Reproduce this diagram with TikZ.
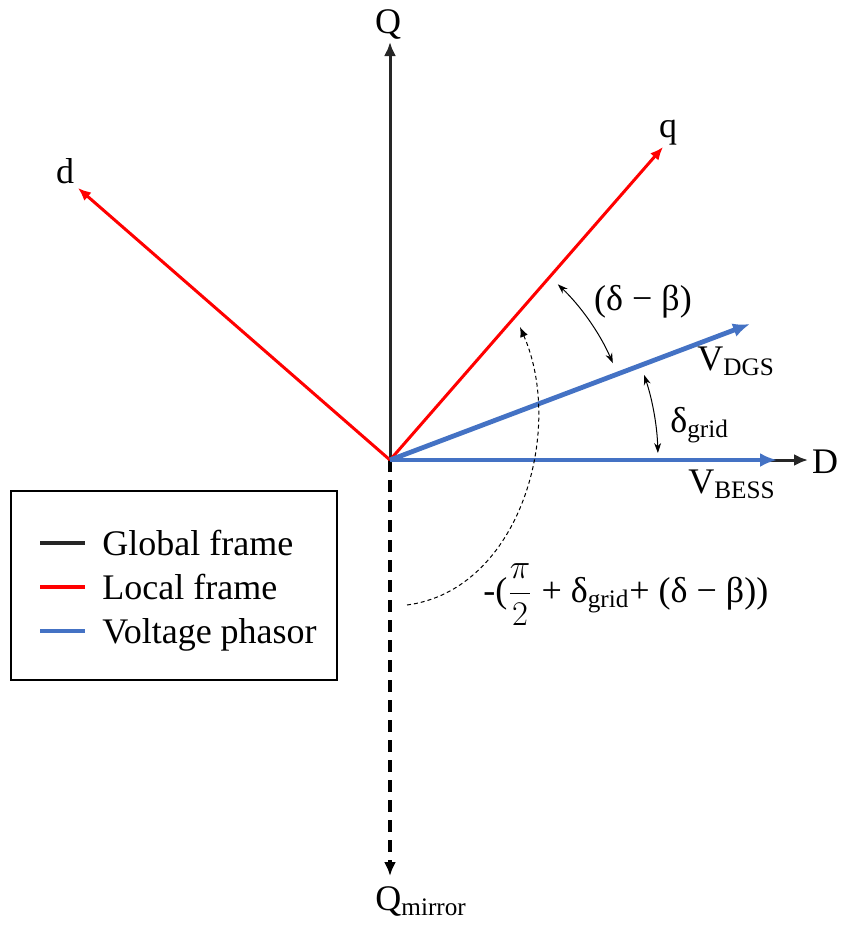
\documentclass[tikz,border=0pt]{standalone}
\usepackage{fontspec}
\setmainfont{Liberation Serif}
\usetikzlibrary{arrows.meta,positioning,calc}
\definecolor{FrameBlack}{HTML}{262626}
\definecolor{LocalRed}{HTML}{FF0000}
\definecolor{PhasorBlue}{HTML}{4472C4}

\begin{document}
\begin{tikzpicture}[x=0.5pt,y=-0.5pt,font=\fontsize{18}{21}\selectfont,
  globalax/.style={FrameBlack,line width=1.5pt,-{Latex[length=7pt,width=6pt]}},
  localax/.style={LocalRed,line width=1.5pt,-{Latex[length=6.5pt,width=5.5pt]}},
  phasor/.style={PhasorBlue,line width=2.4pt,-{Latex[length=8.5pt,width=7pt]}},
  mirrorax/.style={black,line width=1.8pt,dash pattern=on 6pt off 4pt,-{Latex[length=7pt,width=6pt]}},
  angmark/.style={black,line width=0.5pt,{Stealth[length=5pt,width=3.5pt]}-{Stealth[length=5pt,width=3.5pt]}},
  sweep/.style={black,line width=0.5pt,dash pattern=on 2pt off 1.5pt,-{Latex[length=5pt,width=4pt]}},
  lbl/.style={anchor=base,inner sep=0pt}]
\useasboundingbox (0,0) rectangle (843,927);

% origin and arrow tips
\coordinate (O) at (390,460);
\coordinate (Qtip) at (390,42);
\coordinate (Dtip) at (808,460);
\coordinate (Mtip) at (390,876);
\coordinate (dtip) at (78,188);
\coordinate (qtip) at (663,147);
\coordinate (DGStip) at (750,324);
\coordinate (BESStip) at (777,460);

% global frame
\draw[globalax] (O) -- (Qtip);
\draw[globalax] (O) -- (Dtip);
\draw[mirrorax] (O) -- (Mtip);
\node[lbl] (Q) at (388,33) {Q};
\node[lbl] (D) at (825,473) {D};
\node[lbl,anchor=base west] (Qm) at (375,910) {Q\textsubscript{mirror}};

% local frame
\draw[localax] (O) -- (dtip);
\draw[localax] (O) -- (qtip);
\node[lbl] (d) at (65,183) {d};
\node[lbl] (q) at (668,137) {q};

% voltage phasors
\draw[phasor] (O) -- (BESStip);
\draw[phasor] (O) -- (DGStip);
\node[lbl,anchor=base west] (Vdgs) at (697,370) {V\textsubscript{DGS}};
\node[lbl,anchor=base west] (Vbess) at (688,493) {V\textsubscript{BESS}};

% angles
\draw[angmark] ($(O)+(-46.3:243)$) arc[start angle=-46.3,end angle=-23.5,radius=243];
\draw[angmark] ($(O)+(-18.5:268)$) arc[start angle=-18.5,end angle=-1.5,radius=268];
\node[lbl] (db) at (643,310) {(δ − β)};
\node[lbl,anchor=base west] (dg) at (670,432) {δ\textsubscript{grid}};

\coordinate (sweepA) at (407,605);
\coordinate (sweepB) at (520,327);
\draw[sweep] (sweepA) .. controls (520,590) and (565,430) .. (sweepB);
\node[lbl,anchor=base west] (sweeplbl) at (483,602) {-(${\displaystyle\frac{\pi}{2}}$ + δ\textsubscript{grid}+ (δ − β))};

% legend
\node[draw,line width=1pt,minimum width=163pt,minimum height=94.5pt,inner sep=0pt] (legend) at (174,585.5) {};
\foreach \col/\txt/\yy in {FrameBlack/Global frame/555,LocalRed/Local frame/599,PhasorBlue/Voltage phasor/643}{
  \draw[\col,line width=1.6pt] (40,\yy-12) -- (85,\yy-12);
  \node[lbl,anchor=base west] (leg\yy) at (102,\yy) {\txt};
}
\end{tikzpicture}
\end{document}
